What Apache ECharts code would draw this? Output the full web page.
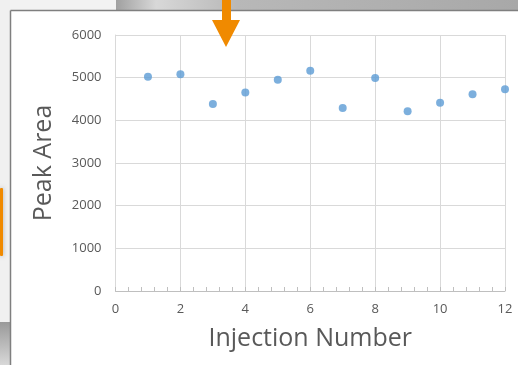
<!DOCTYPE html>
<html>
<head>
<meta charset="utf-8">
<script src="https://cdn.jsdelivr.net/npm/echarts@6/dist/echarts.min.js"></script>
<style>
html,body{margin:0;padding:0;background:#fff;}
#c{width:518px;height:365px;}
</style>
</head>
<body>
<div id="c"></div>
<script>
const injections = [1,2,3,4,5,6,7,8,9,10,11,12];
const peakAreas = [5020,5080,4380,4650,4950,5160,4290,4990,4210,4410,4610,4730];
const xTicks = [0,2,4,6,8,10,12];
const yTicks = [0,1000,2000,3000,4000,5000,6000];

const chart = echarts.init(document.getElementById('c'));
const font = '"Open Sans", "Noto Sans", sans-serif';
chart.setOption({
  animation: false,
  backgroundColor: '#ffffff',
  grid: {left: 115.5, right: 13, top: 35, bottom: 74, containLabel: false},
  xAxis: {
    type: 'value', min: xTicks[0], max: xTicks[xTicks.length-1], interval: 2,
    name: 'Injection Number', nameLocation: 'middle', nameGap: 35,
    nameTextStyle: {fontFamily: font, fontSize: 25, color: '#595959'},
    axisLine: {show: true, lineStyle: {color: '#bfbfbf', width: 1}},
    axisTick: {show: true, inside: true, length: 4, lineStyle: {color: '#bfbfbf'}},
    minorTick: {show: true, splitNumber: 5, length: 4, lineStyle: {color: '#bfbfbf'}},
    axisLabel: {fontFamily: font, fontSize: 13, color: '#595959', margin: 12, formatter: v => String(v)},
    splitLine: {show: true, lineStyle: {color: '#d9d9d9', width: 1}}
  },
  yAxis: {
    type: 'value', min: yTicks[0], max: yTicks[yTicks.length-1], interval: 1000,
    name: 'Peak Area', nameLocation: 'middle', nameGap: 59, nameRotate: 90,
    nameTextStyle: {fontFamily: font, fontSize: 25, color: '#595959'},
    axisLine: {show: true, lineStyle: {color: '#d9d9d9', width: 1}},
    axisTick: {show: false},
    axisLabel: {fontFamily: font, fontSize: 13, color: '#595959', margin: 14, formatter: v => String(v)},
    splitLine: {show: true, lineStyle: {color: '#d9d9d9', width: 1}}
  },
  series: [{
    type: 'scatter',
    data: injections.map((x, i) => [x, peakAreas[i]]),
    symbol: 'circle', symbolSize: 8,
    itemStyle: {color: '#5b9bd5'}
  }],
  graphic: [
    {type: 'rect', shape: {x: 0, y: 0, width: 518, height: 10}, style: {fill: '#f2f2f2'}, z: 100},
    {type: 'rect', shape: {x: 116, y: 0, width: 402, height: 10},
     style: {fill: new echarts.graphic.LinearGradient(0, 0, 1, 0, [
       {offset: 0, color: '#a0a0a0'}, {offset: 0.1, color: '#d8d8d8'}, {offset: 0.3, color: '#b8b8b8'}, {offset: 1, color: '#a8a8a8'}])}, z: 100},
    {type: 'rect', shape: {x: 0, y: 0, width: 10, height: 365}, style: {fill: '#f0f0f0'}, z: 100},
    {type: 'rect', shape: {x: 0, y: 322, width: 10, height: 43},
     style: {fill: new echarts.graphic.LinearGradient(0, 0, 0, 1, [
       {offset: 0, color: '#999999'}, {offset: 1, color: '#d8d8d8'}])}, z: 100},
    {type: 'line', shape: {x1: 10.5, y1: 10.5, x2: 518, y2: 10.5}, style: {stroke: '#7f7f7f', lineWidth: 1.5}, z: 101},
    {type: 'line', shape: {x1: 10.5, y1: 10.5, x2: 10.5, y2: 365}, style: {stroke: '#7f7f7f', lineWidth: 1.5}, z: 101},
    {type: 'rect', shape: {x: 0, y: 188, width: 3, height: 68, r: 1}, style: {fill: '#f08a00', shadowBlur: 4, shadowColor: 'rgba(0,0,0,0.3)'}, z: 102},
    {type: 'polygon', shape: {points: [[222,0],[231,0],[231,20],[240,20],[226,47],[212,20],[222,20]]}, style: {fill: '#f08a00'}, z: 102}
  ]
});
</script>
</body>
</html>
